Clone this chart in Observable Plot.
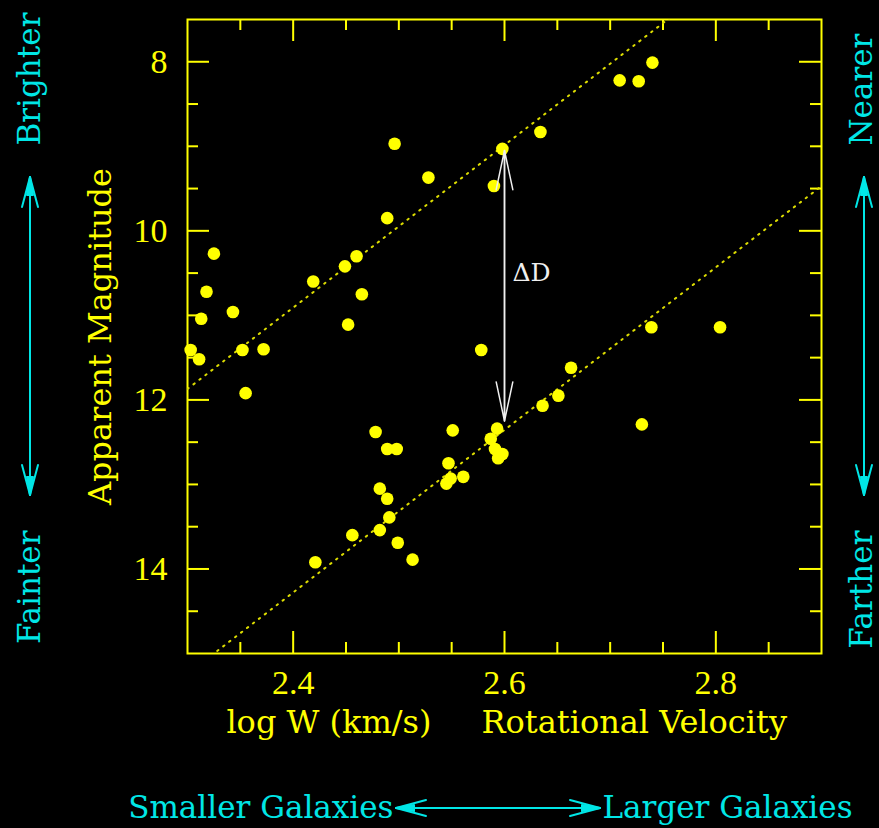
<!DOCTYPE html>
<html>
<head>
<meta charset="utf-8">
<script src="https://cdn.jsdelivr.net/npm/d3@7"></script>
<script src="https://cdn.jsdelivr.net/npm/@observablehq/plot@0.6"></script>
<style>
  html, body { margin: 0; padding: 0; background: #000; }
  #chart svg { display: block; }
</style>
</head>
<body>
<div id="chart"></div>
<script>
// ---- data ----
const logW = [
  2.740, 2.709, 2.727, 2.634, 2.598, 2.496, 2.528, 2.590, 2.489, 2.325,
  2.460, 2.449, 2.419, 2.318, 2.465, 2.343, 2.313, 2.452, 2.303, 2.311,
  2.352, 2.372, 2.355, 2.578, 2.478, 2.551, 2.489, 2.498, 2.593, 2.587,
  2.591, 2.598, 2.594, 2.547, 2.549, 2.561, 2.545, 2.482, 2.489, 2.491,
  2.482, 2.456, 2.499, 2.513, 2.421, 2.739, 2.804, 2.663, 2.651, 2.636,
  2.730
];
const appMag = [
  8.01, 8.22, 8.23, 8.83, 9.03, 8.97, 9.37, 9.47, 9.85, 10.27,
  10.30, 10.42, 10.60, 10.72, 10.75, 10.96, 11.04, 11.11, 11.41, 11.52,
  11.41, 11.40, 11.92, 11.41, 12.38, 12.36, 12.58, 12.58, 12.34, 12.46,
  12.58, 12.64, 12.69, 12.75, 12.93, 12.91, 12.99, 13.05, 13.17, 13.39,
  13.54, 13.60, 13.69, 13.89, 13.92, 11.14, 11.14, 11.62, 11.95, 12.07,
  12.29
];
// two parallel Tully-Fisher lines (end values at log W = 2.3 and 2.9)
const fitLogW = [2.3, 2.9];
const upperFitMag = [11.87, 6.10];
const lowerFitMag = [15.24, 9.47];
// Delta D annotation
const deltaDLogW = 2.6;
const deltaDTopMag = 9.05;
const deltaDBottomMag = 12.25;
const deltaDLabelMag = 10.5;
// axes
const xDomain = [2.3, 2.9];
const yDomain = [7.5, 15];
const xTickLabels = [2.4, 2.6, 2.8];
const xMinorTicks = [2.35, 2.45, 2.5, 2.55, 2.65, 2.7, 2.75, 2.85];
const yTickLabels = [8, 10, 12, 14];
const yMinorTicks = [8.5, 9, 9.5, 10.5, 11, 11.5, 12.5, 13, 13.5, 14.5];
const xLabelLeft = "log W (km/s)";
const xLabelRight = "Rotational Velocity";
const yLabel = "Apparent Magnitude";

// ---- layout / style ----
const W = 879, H = 828;
const mL = 187, mR = 58, mT = 19, mB = 175;
const FW = W - mL - mR, FH = H - mT - mB;
const yellow = "#ffff00";
const cyan = "#00e6e6";
const white = "#f0f0f0";
const serif = "DejaVu Serif";
const tickFont = "Liberation Serif";
const majorLen = 22, minorLen = 11;

const points = logW.map((x, i) => ({x, y: appMag[i]}));
const fits = [
  ...fitLogW.map((x, i) => ({fit: "upper", x, y: upperFitMag[i]})),
  ...fitLogW.map((x, i) => ({fit: "lower", x, y: lowerFitMag[i]}))
];
const deltaD = [
  {x1: deltaDLogW, y1: deltaDBottomMag, x2: deltaDLogW, y2: deltaDTopMag},
  {x1: deltaDLogW, y1: deltaDTopMag, x2: deltaDLogW, y2: deltaDBottomMag}
];

const tickStyle = {stroke: yellow, strokeWidth: 2};
const cyText = {fill: cyan, fontFamily: serif, fontSize: 31, lineAnchor: "middle"};

const chart = Plot.plot({
  width: W, height: H,
  marginLeft: mL, marginRight: mR, marginTop: mT, marginBottom: mB,
  style: {background: "#000", color: yellow, overflow: "visible"},
  x: {domain: xDomain},
  y: {domain: yDomain, reverse: true},
  marks: [
    Plot.frame({stroke: yellow, strokeWidth: 2}),
    // inward ticks on all four sides
    Plot.ruleX(xTickLabels, {...tickStyle, insetTop: FH - majorLen}),
    Plot.ruleX(xTickLabels, {...tickStyle, insetBottom: FH - majorLen}),
    Plot.ruleX(xMinorTicks, {...tickStyle, insetTop: FH - minorLen}),
    Plot.ruleX(xMinorTicks, {...tickStyle, insetBottom: FH - minorLen}),
    Plot.ruleY(yTickLabels, {...tickStyle, insetRight: FW - majorLen}),
    Plot.ruleY(yTickLabels, {...tickStyle, insetLeft: FW - majorLen}),
    Plot.ruleY(yMinorTicks, {...tickStyle, insetRight: FW - minorLen}),
    Plot.ruleY(yMinorTicks, {...tickStyle, insetLeft: FW - minorLen}),
    // tick labels
    Plot.axisX(xTickLabels, {anchor: "bottom", tickSize: 0, tickPadding: 16, label: null,
      tickFormat: d => d.toFixed(1), fontSize: 34, fontFamily: tickFont, fill: yellow}),
    Plot.axisY(yTickLabels, {anchor: "left", tickSize: 0, tickPadding: 20, label: null,
      tickFormat: d => String(d), fontSize: 34, fontFamily: tickFont, fill: yellow}),
    // axis titles
    Plot.text([yLabel], {text: d => d, frameAnchor: "left", dx: -87, rotate: -90,
      textAnchor: "middle", lineAnchor: "middle", fill: yellow, fontFamily: serif, fontSize: 32}),
    Plot.text([xLabelLeft], {text: d => d, frameAnchor: "bottom", dx: -73, dy: 69,
      textAnchor: "end", lineAnchor: "middle", fill: yellow, fontFamily: serif, fontSize: 32}),
    Plot.text([xLabelRight], {text: d => d, frameAnchor: "bottom", dx: -23, dy: 69,
      textAnchor: "start", lineAnchor: "middle", fill: yellow, fontFamily: serif, fontSize: 32}),
    // dotted fit lines
    Plot.line(fits, {x: "x", y: "y", z: "fit", stroke: "#dcdc00", strokeWidth: 2,
      strokeDasharray: "1.5,6", clip: true}),
    // galaxies
    Plot.dot(points, {x: "x", y: "y", r: 6.3, fill: yellow, stroke: null}),
    // Delta D arrow
    Plot.arrow(deltaD, {x1: "x1", y1: "y1", x2: "x2", y2: "y2", stroke: white,
      strokeWidth: 1.5, headLength: 40, headAngle: 24}),
    Plot.text(["ΔD"], {text: d => d, x: () => deltaDLogW, y: () => deltaDLabelMag, dx: 8,
      textAnchor: "start", lineAnchor: "middle", fill: white, fontFamily: serif, fontSize: 25}),
    // cyan side/bottom captions
    Plot.text(["Brighter"], {...cyText, text: d => d, frameAnchor: "left", dx: -157, dy: -191, rotate: -90, textAnchor: "start"}),
    Plot.text(["Fainter"], {...cyText, text: d => d, frameAnchor: "left", dx: -157, dy: 194, rotate: -90, textAnchor: "end"}),
    Plot.text(["Nearer"], {...cyText, text: d => d, frameAnchor: "right", dx: 41, dy: -191, rotate: -90, textAnchor: "start"}),
    Plot.text(["Farther"], {...cyText, text: d => d, frameAnchor: "right", dx: 41, dy: 194, rotate: -90, textAnchor: "end"}),
    Plot.text(["Smaller Galaxies"], {...cyText, text: d => d, frameAnchor: "bottom", dx: -111, dy: 155, textAnchor: "end"}),
    Plot.text(["Larger Galaxies"], {...cyText, text: d => d, frameAnchor: "bottom", dx: 98, dy: 155, textAnchor: "start"})
  ]
});

// decorative cyan double-headed arrows outside the frame
const cx = mL + FW / 2, cy = mT + FH / 2;
const deco = d3.select(chart).append("g")
  .attr("stroke", cyan).attr("stroke-width", 2).attr("fill", "none")
  .attr("stroke-linecap", "round").attr("stroke-linejoin", "round");
function doubleArrow(x1, y1, x2, y2, len, half) {
  const dx = x2 - x1, dy = y2 - y1, L = Math.hypot(dx, dy);
  const ux = dx / L, uy = dy / L, px = -uy, py = ux;
  deco.append("path").attr("d", `M${x1},${y1}L${x2},${y2}`);
  for (const [tx, ty, s] of [[x1, y1, 1], [x2, y2, -1]]) {
    const bx = tx + s * ux * len, by = ty + s * uy * len;
    deco.append("path").attr("d",
      `M${bx + px * half},${by + py * half}L${tx},${ty}L${bx - px * half},${by - py * half}`);
    const mx = tx + s * ux * len * 0.6, my = ty + s * uy * len * 0.6;
    deco.append("path").attr("fill", cyan).attr("d",
      `M${tx},${ty}L${mx + px * 3},${my + py * 3}L${mx - px * 3},${my - py * 3}Z`);
  }
}
doubleArrow(30, cy - 159, 30, cy + 159, 30, 8);
doubleArrow(mL + FW + 43, cy - 159, mL + FW + 43, cy + 159, 30, 8);
doubleArrow(cx - 108, H - 20, cx + 96, H - 20, 30, 8);

document.getElementById("chart").appendChild(chart);
</script>
</body>
</html>
